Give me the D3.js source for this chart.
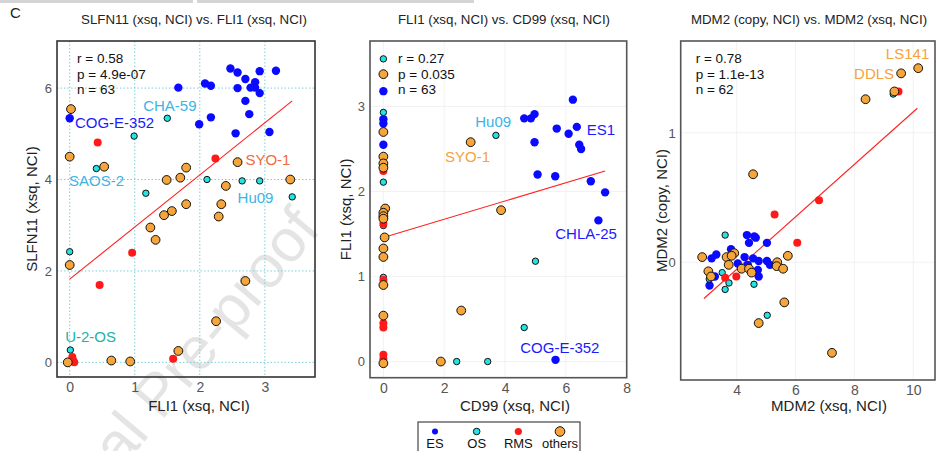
<!DOCTYPE html>
<html>
<head>
<meta charset="utf-8">
<script src="https://cdnjs.cloudflare.com/ajax/libs/d3/7.8.5/d3.min.js"></script>
<style>
  body { margin: 0; background: #fff; }
  svg text { font-family: "Liberation Sans", Arial, sans-serif; }
</style>
</head>
<body>
<svg id="chart" width="938" height="451"></svg>
<script>
// ---- data ----
var groups = ["ES", "OS", "RMS", "others"];

// panel 1: FLI1 (x) vs SLFN11 (y)
var p1ES = [[0.00,5.34],[1.67,6.01],[2.08,6.10],[2.17,6.05],[1.99,5.21],[2.17,5.36],[2.47,6.43],[2.58,6.34],[2.70,6.20],[2.85,6.13],
            [2.92,6.37],[3.17,6.38],[2.58,6.00],[2.78,6.01],[2.85,6.01],[2.92,5.89],[2.70,5.72],[2.76,5.43],[2.55,5.01],[3.07,5.04]];
var p1OS = [[1.50,5.34],[0.99,4.95],[0.41,4.24],[2.11,4.00],[2.65,3.97],[2.92,3.97],[3.42,3.62],[1.17,3.70],[0.00,2.42],[0.01,0.27]];
var p1RMS = [[0.43,4.81],[2.24,4.46],[0.96,2.40],[0.46,1.69],[1.59,0.08],[0.04,0.12],[0.07,0.00],[0.05,0.05]];
var p1Others = [[0.02,5.54],[0.00,4.50],[0.53,4.28],[1.79,4.26],[1.70,4.04],[1.49,3.99],[2.58,4.38],[2.40,3.86],[3.39,4.00],
                [1.79,3.46],[2.33,3.46],[1.57,3.31],[1.45,3.22],[2.29,3.19],[1.24,2.95],[1.32,2.68],[0.00,2.13],[2.70,1.78],
                [2.25,0.90],[1.67,0.25],[0.64,0.04],[0.93,0.02],[-0.03,0.00]];
var p1Fit = [[0, 1.82], [3.42, 5.72]];
var p1Stats = ["r = 0.58", "p = 4.9e-07", "n = 63"];
var p1Labels = [["COG-E-352", 0.08, 5.13, "#1a1aff"], ["CHA-59", 1.13, 5.50, "#3cb4e6"], ["SAOS-2", -0.01, 3.86, "#3cb4e6"],
                ["SYO-1", 2.70, 4.32, "#f26a3c"], ["Hu09", 2.58, 3.49, "#3cb4e6"], ["U-2-OS", -0.07, 0.45, "#22b2a8"]];
var p1XTicks = [0, 1, 2, 3];
var p1YTicks = [0, 2, 4, 6];

// panel 2: CD99 (x) vs FLI1 (y)
var p2ES = [[0,3.18],[0,2.85],[0,2.80],[0,2.55],[6.23,3.08],[4.63,2.86],[4.85,2.86],[4.97,2.91],[5.70,2.74],[6.36,2.76],
            [6.09,2.68],[4.97,2.58],[6.44,2.55],[6.50,2.50],[5.07,2.20],[5.65,2.18],[6.82,2.12],[7.29,1.99],[7.07,1.66],[5.66,0.02]];
var p2OS = [[0,3.56],[0,2.93],[0,2.11],[0,1.60],[0,0.99],[3.70,2.66],[5.00,1.18],[4.63,0.40],[2.41,0.00],[3.43,0.00]];
var p2RMS = [[0,2.24],[0,1.62],[0,0.96],[0,0.45],[0,0.40],[0,0.08],[0,0.03]];
var p2Others = [[0,3.38],[0,2.70],[0,2.41],[0,2.33],[0,2.28],[0.06,1.80],[0,1.75],[0,1.71],[0,1.68],[0.04,1.46],
                [0,1.33],[0,1.23],[0,0.90],[0,0.54],[0,-0.02],[3.87,1.78],[2.56,0.60],[1.89,0.00],[2.87,2.58]];
var p2Fit = [[0, 1.46], [7.29, 2.24]];
var p2Stats = ["r = 0.27", "p = 0.035", "n = 63"];
var p2Labels = [["Hu09", 3.02, 2.76, "#3cb4e6"], ["SYO-1", 2.03, 2.35, "#f5a33c"], ["ES1", 6.69, 2.66, "#1a1aff"],
                ["CHLA-25", 5.65, 1.44, "#1a1aff"], ["COG-E-352", 4.50, 0.10, "#1a1aff"]];
var p2XTicks = [0, 2, 4, 6, 8];
var p2YTicks = [0, 1, 2, 3];

// panel 3: MDM2 xsq (x) vs MDM2 copy (y)
var p3ES = [[4.35,0.21],[4.65,0.19],[4.42,0.15],[5.03,0.15],[3.81,0.10],[3.15,0.03],[3.31,0.06],[4.27,0.04],[4.56,0.03],[4.75,0.01],
            [4.04,-0.01],[5.03,0.01],[5.13,-0.02],[4.38,-0.02],[4.72,-0.06],[4.75,-0.11],[3.08,-0.18],[3.26,-0.11],[4.60,0.20]];
var p3OS = [[9.32,1.30],[3.61,0.21],[4.59,-0.17],[3.07,-0.13],[3.51,-0.08],[3.74,-0.16],[3.61,-0.21],[5.04,-0.41]];
var p3RMS = [[9.50,1.32],[6.80,0.48],[5.29,0.37],[6.06,0.15],[3.99,-0.11],[3.61,-0.12]];
var p3Others = [[10.17,1.50],[9.59,1.46],[9.36,1.32],[8.38,1.26],[4.56,0.68],[2.83,0.04],[3.66,0.04],[3.92,0.07],[3.83,0.05],
                [3.73,-0.02],[5.74,0.05],[5.38,0.00],[5.36,-0.03],[5.58,-0.05],[4.17,-0.05],[4.42,-0.05],[4.51,-0.08],
                [3.04,-0.07],[3.13,-0.11],[5.62,-0.31],[4.75,-0.47],[7.24,-0.70]];
var p3Fit = [[2.89, -0.28], [10.14, 1.19]];
var p3Stats = ["r = 0.78", "p = 1.1e-13", "n = 62"];
var p3Labels = [["LS141", 9.07, 1.57, "#f5a33c"], ["DDLS", 7.99, 1.42, "#f5a33c"]];
var p3XTicks = [4, 6, 8, 10];
var p3YTicks = [0, 1];

// ---- styling ----
var fill = { ES: "#0a0aff", OS: "#22e4e4", RMS: "#ff1a1a", others: "#f5a53a" };
var radius = { ES: 4.2, OS: 3.2, RMS: 4.0, others: 4.4 };
var stroke = { ES: "none", OS: "#111", RMS: "none", others: "#111" };

var svg = d3.select("#chart");

// stray grey rule at the very top of the page crop
svg.append("rect").attr("x", 0).attr("y", 0).attr("width", 193).attr("height", 3).attr("fill", "#d4d4d4");
svg.append("rect").attr("x", 197).attr("y", 0).attr("width", 277).attr("height", 3).attr("fill", "#d4d4d4");

// watermark behind everything
svg.append("text")
    .attr("transform", "translate(322,230) rotate(-50)")
    .attr("text-anchor", "end")
    .attr("font-size", 60)
    .attr("fill", "#e4e4e4")
    .text("Journal Pre-proof");

svg.append("text").attr("x", 10).attr("y", 18).attr("font-size", 15).attr("fill", "#222").text("C");

function drawPanel(p) {
    var x = d3.scaleLinear().domain(p.xDomain).range([p.left, p.right]);
    var y = d3.scaleLinear().domain(p.yDomain).range([p.bottom, p.top]);
    var g = svg.append("g");

    // grid
    g.selectAll(".gx").data(p.xTicks).enter().append("line")
        .attr("x1", d => x(d)).attr("x2", d => x(d))
        .attr("y1", p.top).attr("y2", p.bottom)
        .attr("stroke", p.gridColor).attr("stroke-width", p.gridWidth)
        .attr("stroke-dasharray", p.gridDash);
    g.selectAll(".gy").data(p.yTicks).enter().append("line")
        .attr("x1", p.left).attr("x2", p.right)
        .attr("y1", d => y(d)).attr("y2", d => y(d))
        .attr("stroke", p.gridColor).attr("stroke-width", p.gridWidth)
        .attr("stroke-dasharray", p.gridDash);

    // axes
    var fmt = d3.format("d");
    var xa = g.append("g").attr("transform", "translate(0," + p.bottom + ")")
        .call(d3.axisBottom(x).tickValues(p.xTicks).tickFormat(fmt).tickSize(0).tickPadding(5));
    var ya = g.append("g").attr("transform", "translate(" + p.left + ",0)")
        .call(d3.axisLeft(y).tickValues(p.yTicks).tickFormat(fmt).tickSize(0).tickPadding(5));
    xa.select(".domain").remove();
    ya.select(".domain").remove();
    xa.selectAll("text").attr("font-size", 14).attr("fill", "#555").attr("font-family", null);
    ya.selectAll("text").attr("font-size", 13).attr("fill", "#555").attr("font-family", null);

    // fit line
    g.append("line")
        .attr("x1", x(p.fit[0][0])).attr("y1", y(p.fit[0][1]))
        .attr("x2", x(p.fit[1][0])).attr("y2", y(p.fit[1][1]))
        .attr("stroke", "#ff2020").attr("stroke-width", 1.1);

    // points
    groups.forEach(function(k) {
        g.selectAll(".pt-" + k).data(p.points[k]).enter().append("circle")
            .attr("cx", d => x(d[0])).attr("cy", d => y(d[1]))
            .attr("r", radius[k])
            .attr("fill", fill[k])
            .attr("stroke", stroke[k]).attr("stroke-width", 1);
    });

    // labels
    g.selectAll(".lab").data(p.labels).enter().append("text")
        .attr("x", d => x(d[1])).attr("y", d => y(d[2]))
        .attr("font-size", 15).attr("fill", d => d[3])
        .text(d => d[0]);

    // stats
    g.selectAll(".st").data(p.stats).enter().append("text")
        .attr("x", p.left + p.statsDx).attr("y", (d, i) => 63 + i * 15.5)
        .attr("font-size", 13.5).attr("fill", "#111")
        .text(d => d);

    // frame
    g.append("rect").attr("x", p.left).attr("y", p.top)
        .attr("width", p.right - p.left).attr("height", p.bottom - p.top)
        .attr("fill", "none").attr("stroke", p.frameColor).attr("stroke-width", 1.6);

    // titles
    g.append("text").attr("x", p.titleX).attr("y", 24).attr("text-anchor", "middle")
        .attr("font-size", 13.3).attr("fill", "#222").text(p.title);
    g.append("text").attr("x", p.xTitleX).attr("y", 411).attr("text-anchor", "middle")
        .attr("font-size", 15).attr("fill", "#222").text(p.xTitle);
    g.append("text")
        .attr("transform", "translate(" + p.yTitleX + "," + ((p.top + p.bottom) / 2) + ") rotate(-90)")
        .attr("text-anchor", "middle").attr("dy", "0.35em")
        .attr("font-size", 15).attr("fill", "#222").text(p.yTitle);
}

drawPanel({
    left: 57, right: 315, top: 41, bottom: 377,
    xDomain: [-0.195, 3.77], yDomain: [-0.32, 7.03],
    xTicks: p1XTicks, yTicks: p1YTicks,
    gridColor: "#7ccfd8", gridWidth: 1, gridDash: "1.5,2",
    points: { ES: p1ES, OS: p1OS, RMS: p1RMS, others: p1Others },
    fit: p1Fit, stats: p1Stats, statsDx: 20, labels: p1Labels,
    frameColor: "#333",
    title: "SLFN11 (xsq, NCI) vs. FLI1 (xsq, NCI)", titleX: 194,
    xTitle: "FLI1 (xsq, NCI)", xTitleX: 199,
    yTitle: "SLFN11 (xsq, NCI)", yTitleX: 32
});

drawPanel({
    left: 370, right: 626.7, top: 41, bottom: 377.7,
    xDomain: [-0.44, 8.0], yDomain: [-0.19, 3.77],
    xTicks: p2XTicks, yTicks: p2YTicks,
    gridColor: "#efefef", gridWidth: 0.8, gridDash: null,
    points: { ES: p2ES, OS: p2OS, RMS: p2RMS, others: p2Others },
    fit: p2Fit, stats: p2Stats, statsDx: 28, labels: p2Labels,
    frameColor: "#555",
    title: "FLI1 (xsq, NCI) vs. CD99 (xsq, NCI)", titleX: 504,
    xTitle: "CD99 (xsq, NCI)", xTitleX: 515,
    yTitle: "FLI1 (xsq, NCI)", yTitleX: 346
});

drawPanel({
    left: 680.7, right: 935, top: 41, bottom: 380,
    xDomain: [2.1, 10.74], yDomain: [-0.91, 1.71],
    xTicks: p3XTicks, yTicks: p3YTicks,
    gridColor: "#efefef", gridWidth: 0.8, gridDash: null,
    points: { ES: p3ES, OS: p3OS, RMS: p3RMS, others: p3Others },
    fit: p3Fit, stats: p3Stats, statsDx: 15, labels: p3Labels,
    frameColor: "#555",
    title: "MDM2 (copy, NCI) vs. MDM2 (xsq, NCI)", titleX: 809,
    xTitle: "MDM2 (xsq, NCI)", xTitleX: 829,
    yTitle: "MDM2 (copy, NCI)", yTitleX: 662
});

// legend
var legend = svg.append("g");
legend.append("rect").attr("x", 418).attr("y", 422).attr("width", 162).attr("height", 40)
    .attr("fill", "#fff").attr("stroke", "#444").attr("stroke-width", 1.2);
var legendX = d3.scalePoint().domain(groups).range([435, 560]);
var legendR = { ES: 3, OS: 3.3, RMS: 3.6, others: 4.8 };
legend.selectAll("circle").data(groups).enter().append("circle")
    .attr("cx", d => legendX(d)).attr("cy", 431.5)
    .attr("r", d => legendR[d]).attr("fill", d => fill[d])
    .attr("stroke", d => stroke[d]).attr("stroke-width", 1);
legend.selectAll("text").data(groups).enter().append("text")
    .attr("x", d => legendX(d)).attr("y", 448).attr("text-anchor", "middle")
    .attr("font-size", 13).attr("fill", "#111").text(d => d);
</script>
</body>
</html>
